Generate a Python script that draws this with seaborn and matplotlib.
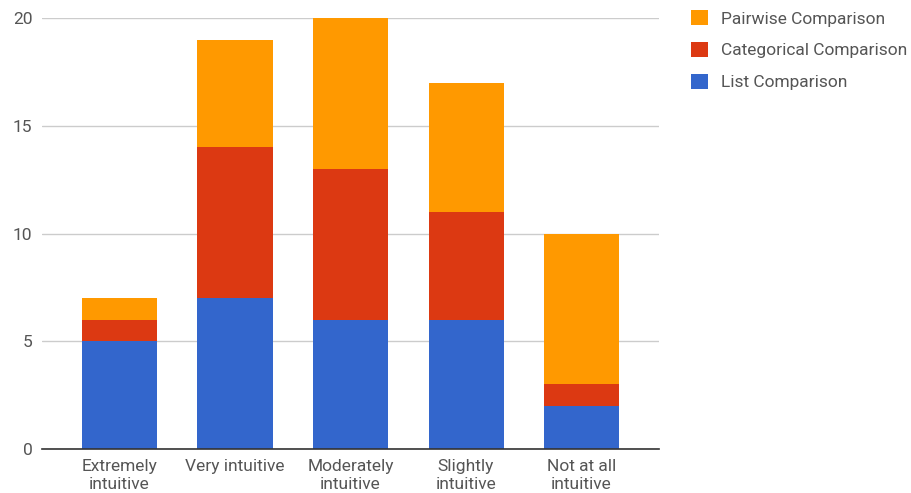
import matplotlib
matplotlib.use("Agg")
import matplotlib.pyplot as plt
from matplotlib.patches import Patch
import pandas as pd
import seaborn as sns

categories = ["Extremely\nintuitive", "Very intuitive", "Moderately\nintuitive",
              "Slightly\nintuitive", "Not at all\nintuitive"]
list_cmp = [5, 7, 6, 6, 2]
categorical_cmp = [1, 7, 7, 5, 1]
pairwise_cmp = [1, 5, 7, 6, 7]
y_ticks = [0, 5, 10, 15, 20]

series_names = ["Pairwise Comparison", "Categorical Comparison", "List Comparison"]
colors = {"Pairwise Comparison": "#ff9900",
          "Categorical Comparison": "#dc3912",
          "List Comparison": "#3366cc"}

sns.set_theme(style="white")
plt.rcParams["font.family"] = ["Roboto", "DejaVu Sans"]

df = pd.DataFrame({
    "category": categories,
    "List Comparison": list_cmp,
    "Categorical Comparison": categorical_cmp,
    "Pairwise Comparison": pairwise_cmp,
})
# cumulative heights so the overlapping bars read as a stack
df["top_list"] = df["List Comparison"]
df["top_cat"] = df["top_list"] + df["Categorical Comparison"]
df["top_pair"] = df["top_cat"] + df["Pairwise Comparison"]

fig = plt.figure(figsize=(9.11, 4.93), dpi=100)
ax = fig.add_axes([0.0461, 0.0892, 0.6773, 0.8743])

for col, name in [("top_pair", "Pairwise Comparison"),
                  ("top_cat", "Categorical Comparison"),
                  ("top_list", "List Comparison")]:
    sns.barplot(data=df, x="category", y=col, color=colors[name],
                width=0.65, saturation=1, ax=ax, linewidth=0, zorder=3)

ax.set_xlim(-0.67, 4.67)
ax.set_ylim(0, 20)
ax.set_yticks(y_ticks)
ax.set_xlabel("")
ax.set_ylabel("")
ax.grid(axis="y", color="#cccccc", linewidth=1, zorder=0)
ax.grid(axis="x", visible=False)
for s in ["top", "right", "left"]:
    ax.spines[s].set_visible(False)
ax.spines["bottom"].set_color("#333333")
ax.spines["bottom"].set_linewidth(1.2)
ax.spines["bottom"].set_zorder(4)
ax.tick_params(axis="both", length=0, colors="#555555", labelsize=12.5)
ax.tick_params(axis="y", pad=7)
ax.tick_params(axis="x", pad=7.5)
for lbl in ax.get_xticklabels():
    lbl.set_linespacing(1.2)

handles = [Patch(facecolor=colors[n], edgecolor="none") for n in series_names]
leg = fig.legend(handles, series_names, loc="upper left",
                 bbox_to_anchor=(0.751, 0.994), frameon=False,
                 fontsize=12.5, handlelength=1.0, handleheight=1.0,
                 handletextpad=0.7, labelspacing=0.87, borderaxespad=0)
for t in leg.get_texts():
    t.set_color("#555555")

fig.savefig("out.png", dpi=100, facecolor="white")
